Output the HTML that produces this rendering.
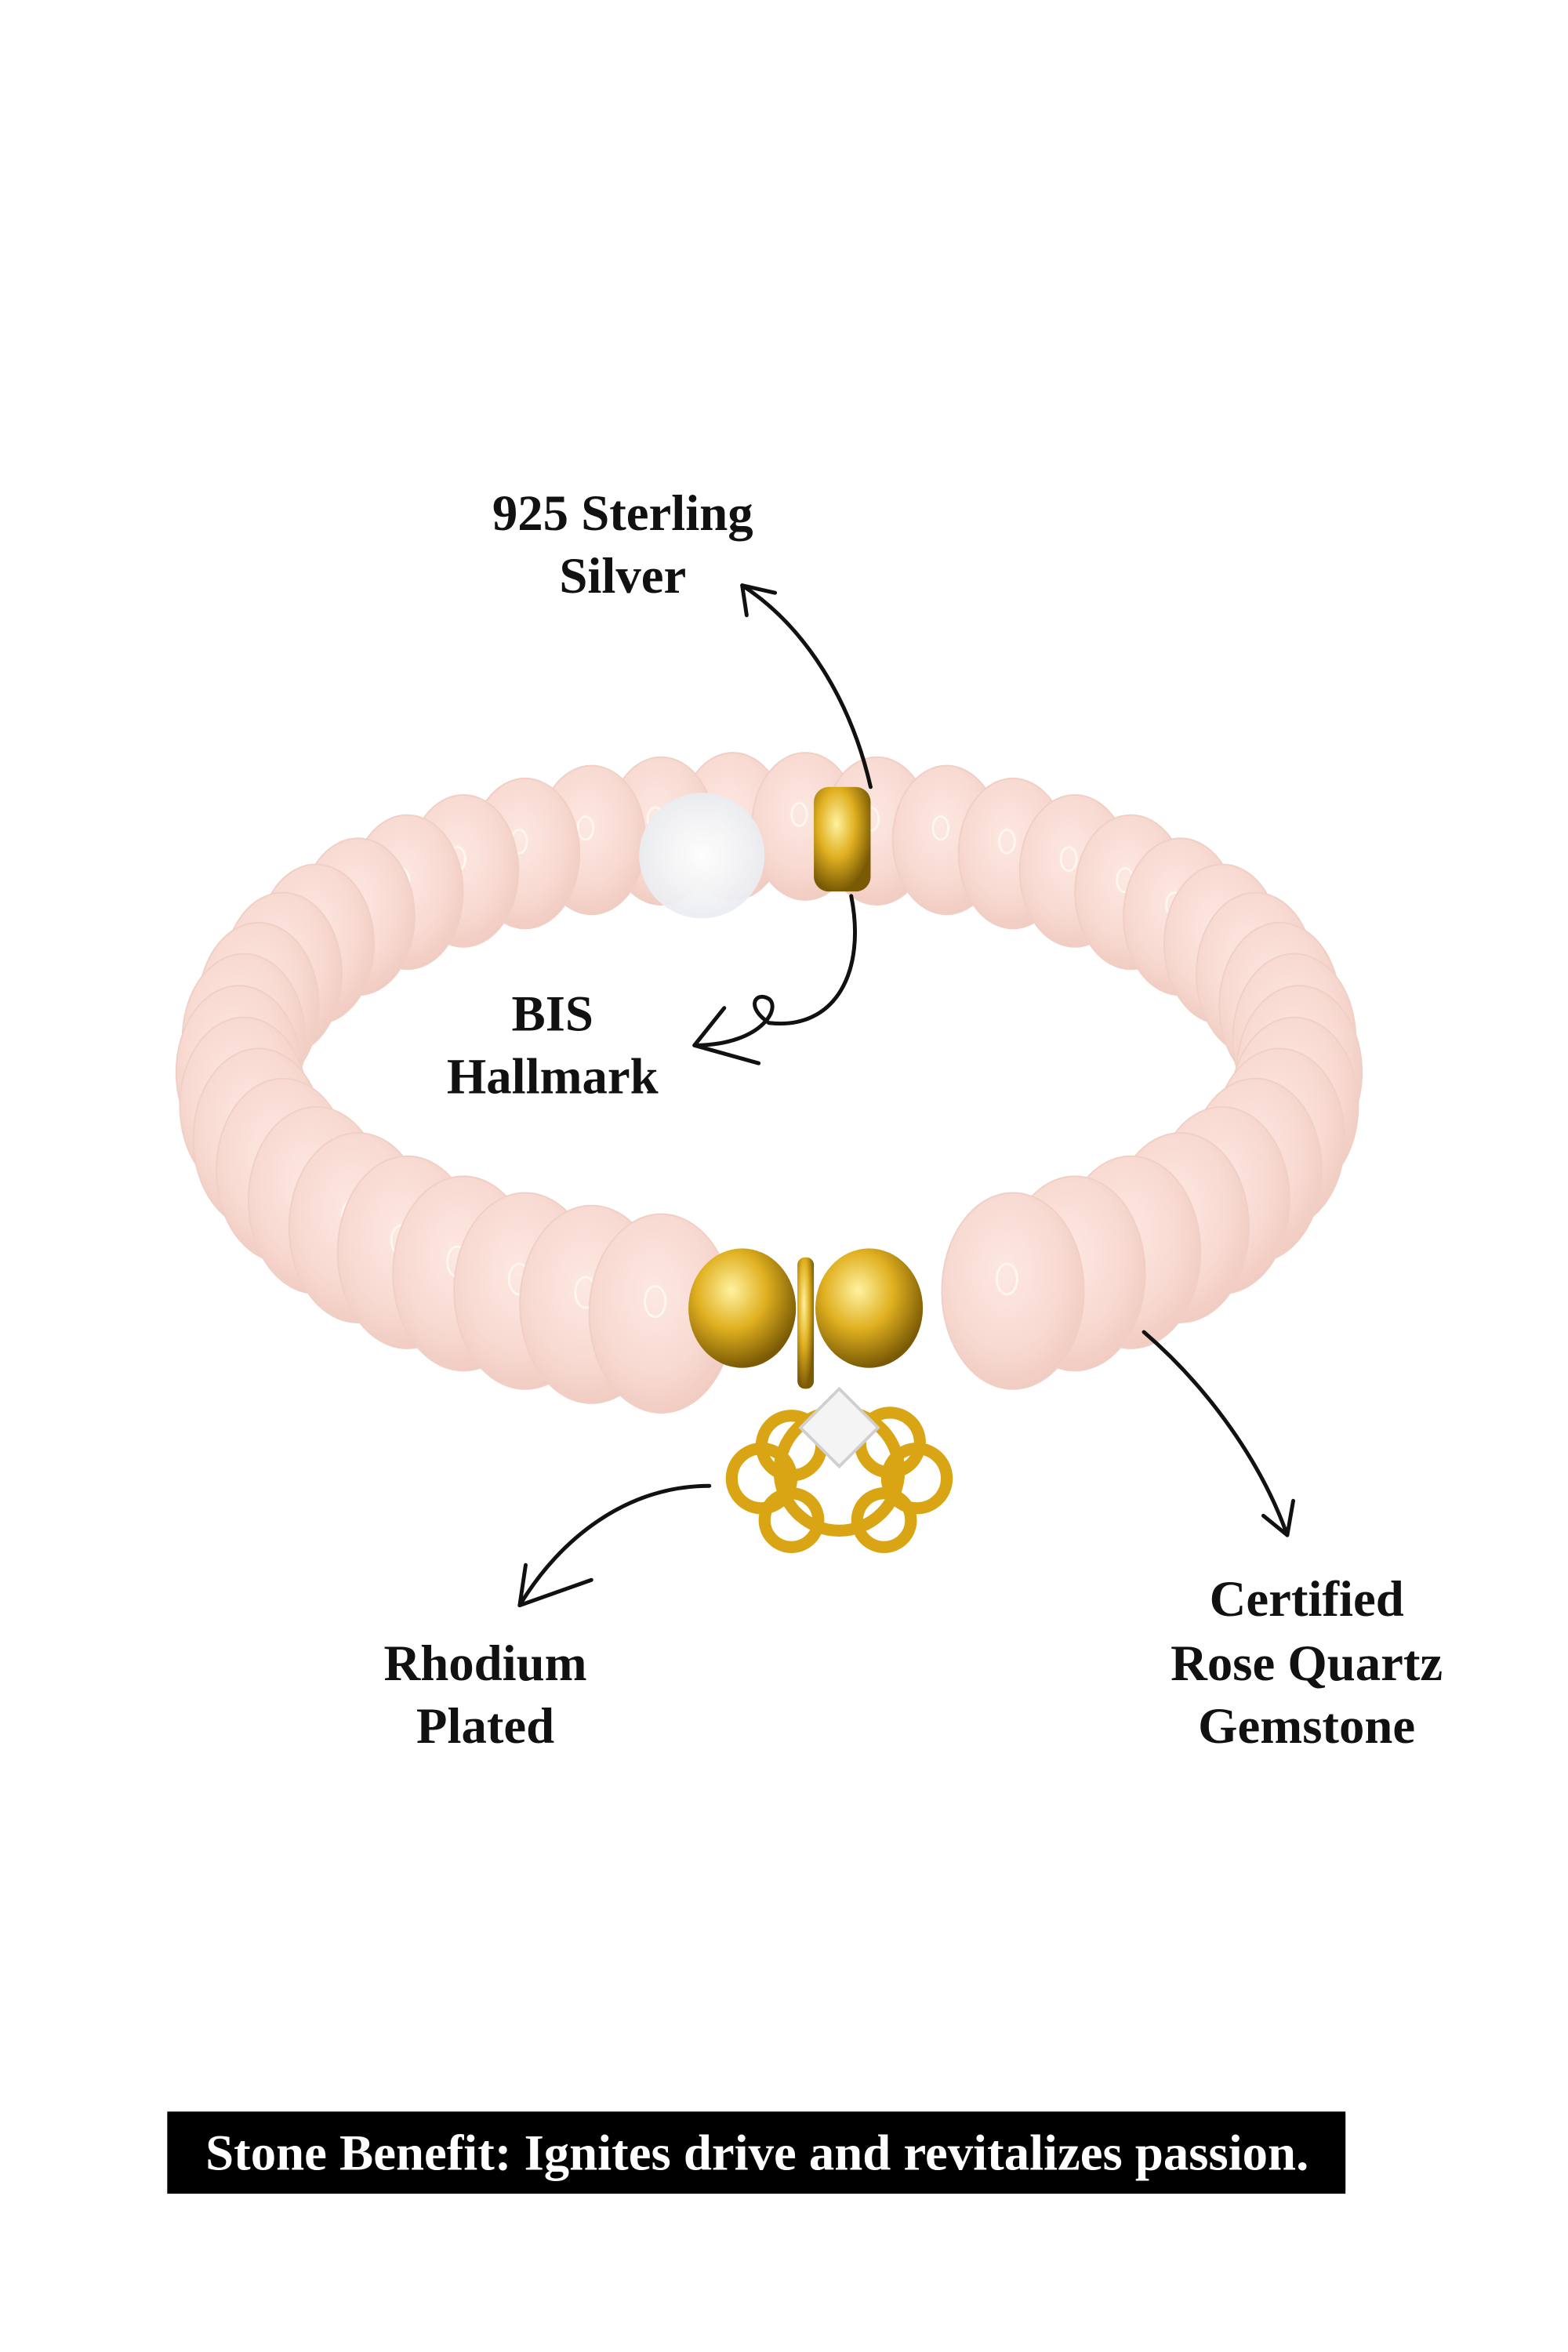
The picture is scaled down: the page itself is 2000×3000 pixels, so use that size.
<!DOCTYPE html>
<html><head><meta charset="utf-8"><style>
html,body{margin:0;padding:0;background:#fff;}
svg{display:block;}
text{font-family:"Liberation Serif",serif;font-weight:bold;}
</style></head><body>
<svg id="s" width="2000" height="3000" viewBox="0 0 1050 1575" xmlns="http://www.w3.org/2000/svg">
<defs>
<radialGradient id="pk" cx="45%" cy="40%" r="65%">
<stop offset="0" stop-color="#fde8e2"/><stop offset="0.6" stop-color="#f8dad2"/><stop offset="1" stop-color="#efc9be"/>
</radialGradient>
<radialGradient id="gd" cx="40%" cy="35%" r="65%">
<stop offset="0" stop-color="#fff2a0"/><stop offset="0.5" stop-color="#e0b020"/><stop offset="1" stop-color="#7a5a05"/>
</radialGradient>
<radialGradient id="cl" cx="50%" cy="50%" r="60%">
<stop offset="0" stop-color="#ffffff"/><stop offset="1" stop-color="#e6e9ee"/>
</radialGradient>
</defs>
<g id="beads"></g>
<rect x="545" y="527" width="38" height="70" rx="10" fill="url(#gd)"/>
<ellipse cx="470" cy="573" rx="42" ry="42" fill="url(#cl)" opacity="0.95"/>
<ellipse cx="497" cy="876" rx="36" ry="40" fill="url(#gd)"/>
<ellipse cx="582" cy="876" rx="36" ry="40" fill="url(#gd)"/>
<rect x="534" y="842" width="11" height="88" rx="5" fill="url(#gd)"/>
<g fill="none" stroke="#d9a515" stroke-width="8">
<circle cx="562" cy="985" r="40"/>
<circle cx="530" cy="968" r="20"/><circle cx="596" cy="966" r="20"/>
<circle cx="510" cy="990" r="20"/><circle cx="614" cy="990" r="20"/>
<circle cx="530" cy="1018" r="18"/><circle cx="592" cy="1018" r="18"/>
</g>
<polygon points="562,930 588,956 562,982 536,956" fill="#f4f4f4" stroke="#cfcfcf" stroke-width="2"/>
<g fill="none" stroke="#111" stroke-width="2.6" stroke-linecap="round">
<path d="M583,527 C570,470 540,420 497,392"/>
<path d="M497,392 L500,412 M497,392 L519,397"/>
<path d="M570,600 C580,650 560,690 515,685 C500,675 505,665 513,668 C525,672 512,700 465,700"/>
<path d="M465,700 L485,675 M465,700 L508,712"/>
<path d="M766,892 C810,930 845,980 862,1028"/>
<path d="M862,1028 L846,1015 M862,1028 L866,1005"/>
<path d="M475,995 C420,995 375,1030 348,1075"/>
<path d="M348,1075 L352,1048 M348,1075 L396,1058"/>
</g>
<g font-size="34" text-anchor="middle" fill="#111">
<text x="417" y="355">925 Sterling</text>
<text x="417" y="397">Silver</text>
<text x="370" y="690">BIS</text>
<text x="370" y="732">Hallmark</text>
<text x="325" y="1125">Rhodium</text>
<text x="325" y="1167">Plated</text>
<text x="875" y="1082">Certified</text>
<text x="875" y="1125">Rose Quartz</text>
<text x="875" y="1167">Gemstone</text>
</g>
<rect x="112" y="1414" width="789" height="55" fill="#000"/>
<text x="507" y="1453" font-size="34" text-anchor="middle" fill="#fff">Stone Benefit: Ignites drive and revitalizes passion.</text>
</svg>
<script>
var g=document.getElementById('beads'),ns='http://www.w3.org/2000/svg',arr=[];
var N=46;
for(var i=0;i<N;i++){
 var t=i/N*Math.PI*2;
 var x=515+355*Math.cos(t), y=718+165*Math.sin(t);
 var s=Math.sin(t);
 if(s>0 && Math.abs(x-540)<95) continue;
 arr.push([x,y,s]);
}
arr.sort(function(a,b){return a[1]-b[1];});
arr.forEach(function(b){
 var k=1+0.15*b[2];
 var e=document.createElementNS(ns,'ellipse');
 e.setAttribute('cx',b[0]);e.setAttribute('cy',b[1]);
 e.setAttribute('rx',42*k);e.setAttribute('ry',58*k);
 e.setAttribute('fill','url(#pk)');
 e.setAttribute('stroke','#f0cfc5');e.setAttribute('stroke-width','1');
 g.appendChild(e);
 var h=document.createElementNS(ns,'ellipse');
 h.setAttribute('cx',b[0]-4);h.setAttribute('cy',b[1]-8);
 h.setAttribute('rx',6*k);h.setAttribute('ry',9*k);
 h.setAttribute('fill','none');h.setAttribute('stroke','#fffaf4');h.setAttribute('stroke-width','1.5');h.setAttribute('opacity','0.8');
 g.appendChild(h);
});
</script>
</body></html>
